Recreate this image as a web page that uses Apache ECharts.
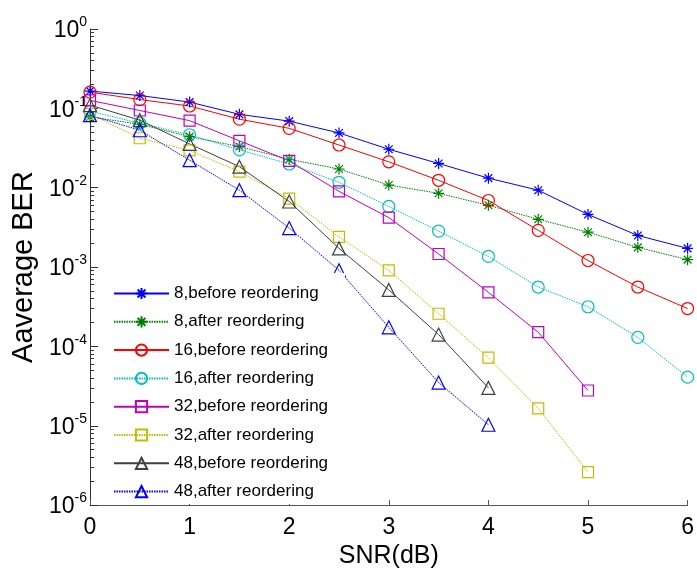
<!DOCTYPE html>
<html>
<head>
<meta charset="utf-8">
<script src="https://cdn.jsdelivr.net/npm/echarts@6/dist/echarts.min.js"></script>
<style>
html, body { margin: 0; padding: 0; background: #fff; }
#Chart { width: 697px; height: 574px; }
</style>
</head>
<body>
<div id="Chart"></div>
<script>
// SNR (dB)
var snr = [0, 0.5, 1, 1.5, 2, 2.5, 3, 3.5, 4, 4.5, 5, 5.5, 6];
var xTicks = [0, 1, 2, 3, 4, 5, 6];
var yTicks = [1e-6, 1e-5, 1e-4, 1e-3, 1e-2, 1e-1, 1];
var minorSteps = [2, 3, 4, 5, 6, 7, 8, 9];

var legendNames = [
    "8,before reordering", "8,after reordering",
    "16,before reordering", "16,after reordering",
    "32,before reordering", "32,after reordering",
    "48,before reordering", "48,after reordering"
];

var ber8Before  = [0.165, 0.145, 0.12, 0.084, 0.069, 0.049, 0.0305, 0.0202, 0.0132, 0.0093, 0.0046, 0.0025, 0.00172];
var ber8After   = [0.078, 0.063, 0.044, 0.033, 0.0228, 0.0172, 0.0108, 0.0085, 0.006, 0.004, 0.00275, 0.00177, 0.00124];
var ber16Before = [0.16, 0.129, 0.107, 0.073, 0.056, 0.0345, 0.0212, 0.0124, 0.0069, 0.0029, 0.00121, 0.00056, 0.0003];
var ber16After  = [0.092, 0.065, 0.0465, 0.03, 0.0199, 0.0117, 0.0058, 0.00284, 0.00136, 0.00056, 0.000316, 0.00013, 0.000041];
var ber32Before = [0.126, 0.094, 0.07, 0.039, 0.0218, 0.009, 0.0042, 0.00146, 0.00048, 0.000151, 0.0000278];
var ber32After  = [0.085, 0.042, 0.0295, 0.0159, 0.0073, 0.0024, 0.00091, 0.000258, 0.000072, 0.0000166, 0.0000026];
var ber48Before = [0.11, 0.071, 0.0356, 0.0184, 0.0067, 0.00172, 0.000515, 0.000141, 0.00003];
var ber48After  = [0.082, 0.053, 0.0222, 0.0093, 0.0031, 0.00091, 0.000174, 0.000035, 0.0000103];

var fontName = "'Liberation Sans', Arial, sans-serif";
var starPath = 'path://M10,0L10,20M0,10L20,10M3,3L17,17M17,3L3,17';

var minorTicks = [];
for (var k = 0; k < yTicks.length - 1; k++) {
    for (var m = 0; m < minorSteps.length; m++) {
        minorTicks.push(yTicks[k] * minorSteps[m]);
    }
}

function pairs(vals) {
    var out = [];
    for (var i = 0; i < vals.length; i++) {
        out.push([snr[i], vals[i]]);
    }
    return out;
}

function makeSeries(name, vals, color, symbol, size, dotted) {
    return {
        name: name,
        type: 'line',
        data: pairs(vals),
        symbol: symbol,
        symbolSize: size,
        showAllSymbol: true,
        clip: false,
        lineStyle: {
            color: color,
            width: 1,
            type: dotted ? [1.5, 1] : 'solid'
        },
        itemStyle: {
            color: 'rgba(255,255,255,0)',
            borderColor: color,
            borderWidth: 1.2
        },
        emphasis: { disabled: true }
    };
}

var myChart = echarts.init(document.getElementById("Chart"));
var option = {
    backgroundColor: '#ffffff',
    animation: false,
    textStyle: { fontFamily: fontName },
    grid: {
        left: 90,
        right: 1,
        top: 29,
        bottom: 59,
        containLabel: false
    },
    legend: {
        orient: 'vertical',
        left: 107,
        top: 273,
        padding: [12, 17, 4, 6],
        backgroundColor: '#ffffff',
        itemWidth: 55,
        itemHeight: 14,
        itemGap: 11.3,
        textStyle: { fontSize: 17, color: '#000', fontFamily: fontName, lineHeight: 17 },
        data: legendNames
    },
    xAxis: {
        type: 'value',
        min: 0,
        max: 6,
        interval: 1,
        name: 'SNR(dB)',
        nameLocation: 'middle',
        nameGap: 34,
        nameTextStyle: { fontSize: 25, color: '#000', fontFamily: fontName },
        axisLine: { lineStyle: { color: '#555', width: 1 } },
        axisTick: { inside: true, length: 5, lineStyle: { color: '#555' }, customValues: xTicks },
        axisLabel: { fontSize: 23, color: '#000', margin: 11, fontFamily: fontName, customValues: xTicks, alignMaxLabel: 'center' },
        splitLine: { show: false }
    },
    yAxis: [
        {
            type: 'log',
            logBase: 10,
            min: 1e-6,
            max: 1,
            name: 'Aaverage BER',
            nameLocation: 'middle',
            nameGap: 47,
            nameTextStyle: { fontSize: 29, color: '#000', fontFamily: fontName },
            axisLine: { show: true, lineStyle: { color: '#333', width: 1 } },
            axisTick: { inside: true, length: 8, lineStyle: { color: '#333' }, customValues: yTicks },
            axisLabel: {
                margin: 3,
                customValues: yTicks,
                formatter: function (v) {
                    var e = Math.round(Math.log(v) / Math.LN10);
                    return '{a|10}{b|' + e + '}';
                },
                rich: {
                    a: { fontSize: 23, color: '#000', fontFamily: fontName, verticalAlign: 'bottom' },
                    b: { fontSize: 14, color: '#000', fontFamily: fontName, verticalAlign: 'bottom', padding: [0, 0, 13, 0] }
                }
            },
            splitLine: { show: false }
        },
        {
            type: 'log',
            logBase: 10,
            min: 1e-6,
            max: 1,
            position: 'left',
            axisLine: { show: false },
            axisTick: { show: true, inside: true, length: 4, lineStyle: { color: '#333' }, customValues: minorTicks },
            axisLabel: { show: false },
            splitLine: { show: false }
        }
    ],
    series: [
        makeSeries(legendNames[0], ber8Before, '#0000ff', starPath, 11, false),
        makeSeries(legendNames[1], ber8After, '#008000', starPath, 11, true),
        makeSeries(legendNames[2], ber16Before, '#ff0000', 'circle', 12, false),
        makeSeries(legendNames[3], ber16After, '#00bfbf', 'circle', 12, true),
        makeSeries(legendNames[4], ber32Before, '#bf00bf', 'rect', 11, false),
        makeSeries(legendNames[5], ber32After, '#bfbf00', 'rect', 11, true),
        makeSeries(legendNames[6], ber48Before, '#404040', 'triangle', 13, false),
        makeSeries(legendNames[7], ber48After, '#0000ff', 'triangle', 13, true)
    ]
};
myChart.setOption(option);
window.addEventListener("resize", function () {
    myChart.resize();
});
</script>
</body>
</html>
